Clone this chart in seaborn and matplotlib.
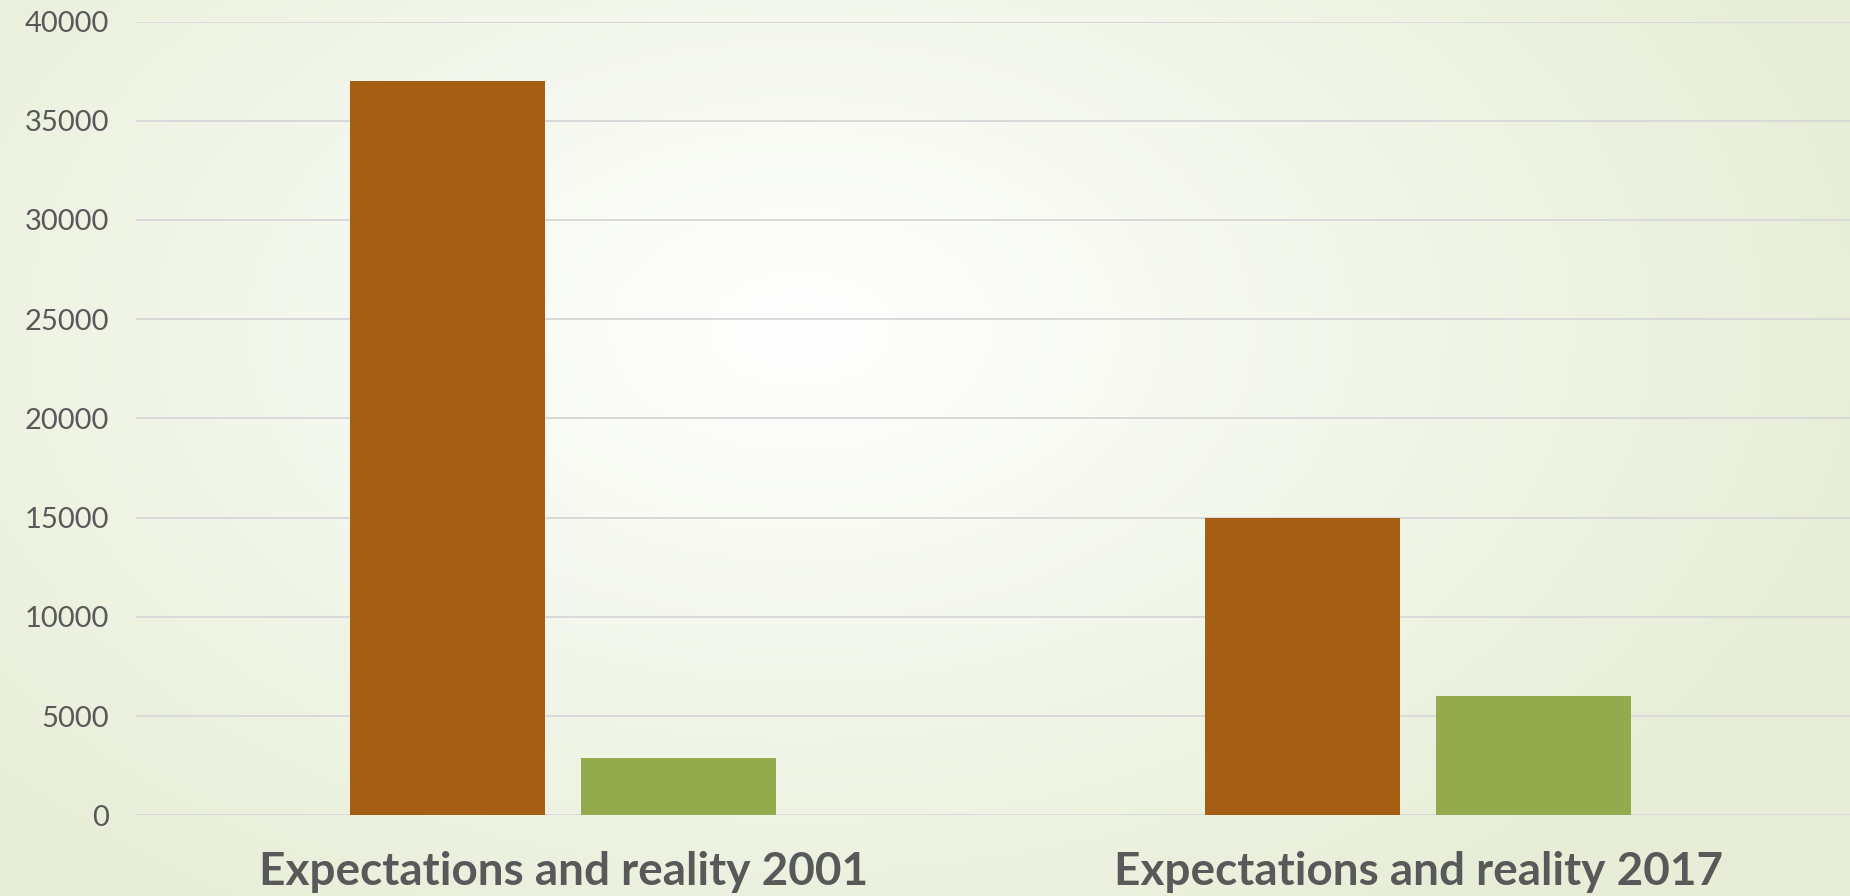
import numpy as np
import pandas as pd
import matplotlib
matplotlib.use("Agg")
import matplotlib.pyplot as plt
import seaborn as sns

# chart values
categories = ["Expectations and reality 2001", "Expectations and reality 2017"]
series = ["Expected", "Reality"]
expected_values = [37000, 15000]
reality_values = [2900, 6000]
y_ticks = [0, 5000, 10000, 15000, 20000, 25000, 30000, 35000, 40000]

df = pd.DataFrame({
    "category": categories * 2,
    "series": [series[0]] * 2 + [series[1]] * 2,
    "value": expected_values + reality_values,
})

sns.set_theme(style="white")
plt.rcParams["font.family"] = ["Lato", "DejaVu Sans"]

fig = plt.figure(figsize=(18.5, 8.96), dpi=100)

# soft radial background, white centre fading to pale green
bg = fig.add_axes([0, 0, 1, 1], zorder=-10)
h, w = 896, 1850
yy, xx = np.mgrid[0:h, 0:w]
r = np.sqrt(((xx - 800) / 1100.0) ** 2 + ((yy - 330) / 700.0) ** 2)
r = np.clip(r, 0, 1)
c0 = np.array([1.0, 1.0, 1.0])
c1 = np.array([0.906, 0.933, 0.843])
img = c0[None, None, :] * (1 - r[..., None]) + c1[None, None, :] * r[..., None]
bg.imshow(img, aspect="auto", extent=[0, 1, 0, 1])
bg.axis("off")

ax = fig.add_axes([0.0734, 0.09, 0.9266, 0.886])
ax.patch.set_alpha(0)

sns.barplot(data=df, x="category", y="value", hue="series",
            palette=["#A65E14", "#93AB4C"], width=0.54, gap=0.156,
            saturation=1, legend=False, linewidth=0, edgecolor="none",
            ax=ax, zorder=3)

ax.set_xlim(-0.5, 1.505)
ax.set_ylim(0, 40000)
ax.set_yticks(y_ticks)
ax.set_yticklabels([str(v) for v in y_ticks])
ax.yaxis.grid(True, color="#d9d9d9", linewidth=1.4)
ax.set_axisbelow(True)
for s in ax.spines.values():
    s.set_visible(False)
ax.set_xlabel("")
ax.set_ylabel("")
ax.tick_params(axis="y", length=0, pad=19, labelsize=21, labelcolor="#595959")
ax.tick_params(axis="x", length=0, pad=26, labelsize=33, labelcolor="#595959")
for t in ax.get_xticklabels():
    t.set_fontweight("bold")

fig.savefig("out.png", dpi=100)
